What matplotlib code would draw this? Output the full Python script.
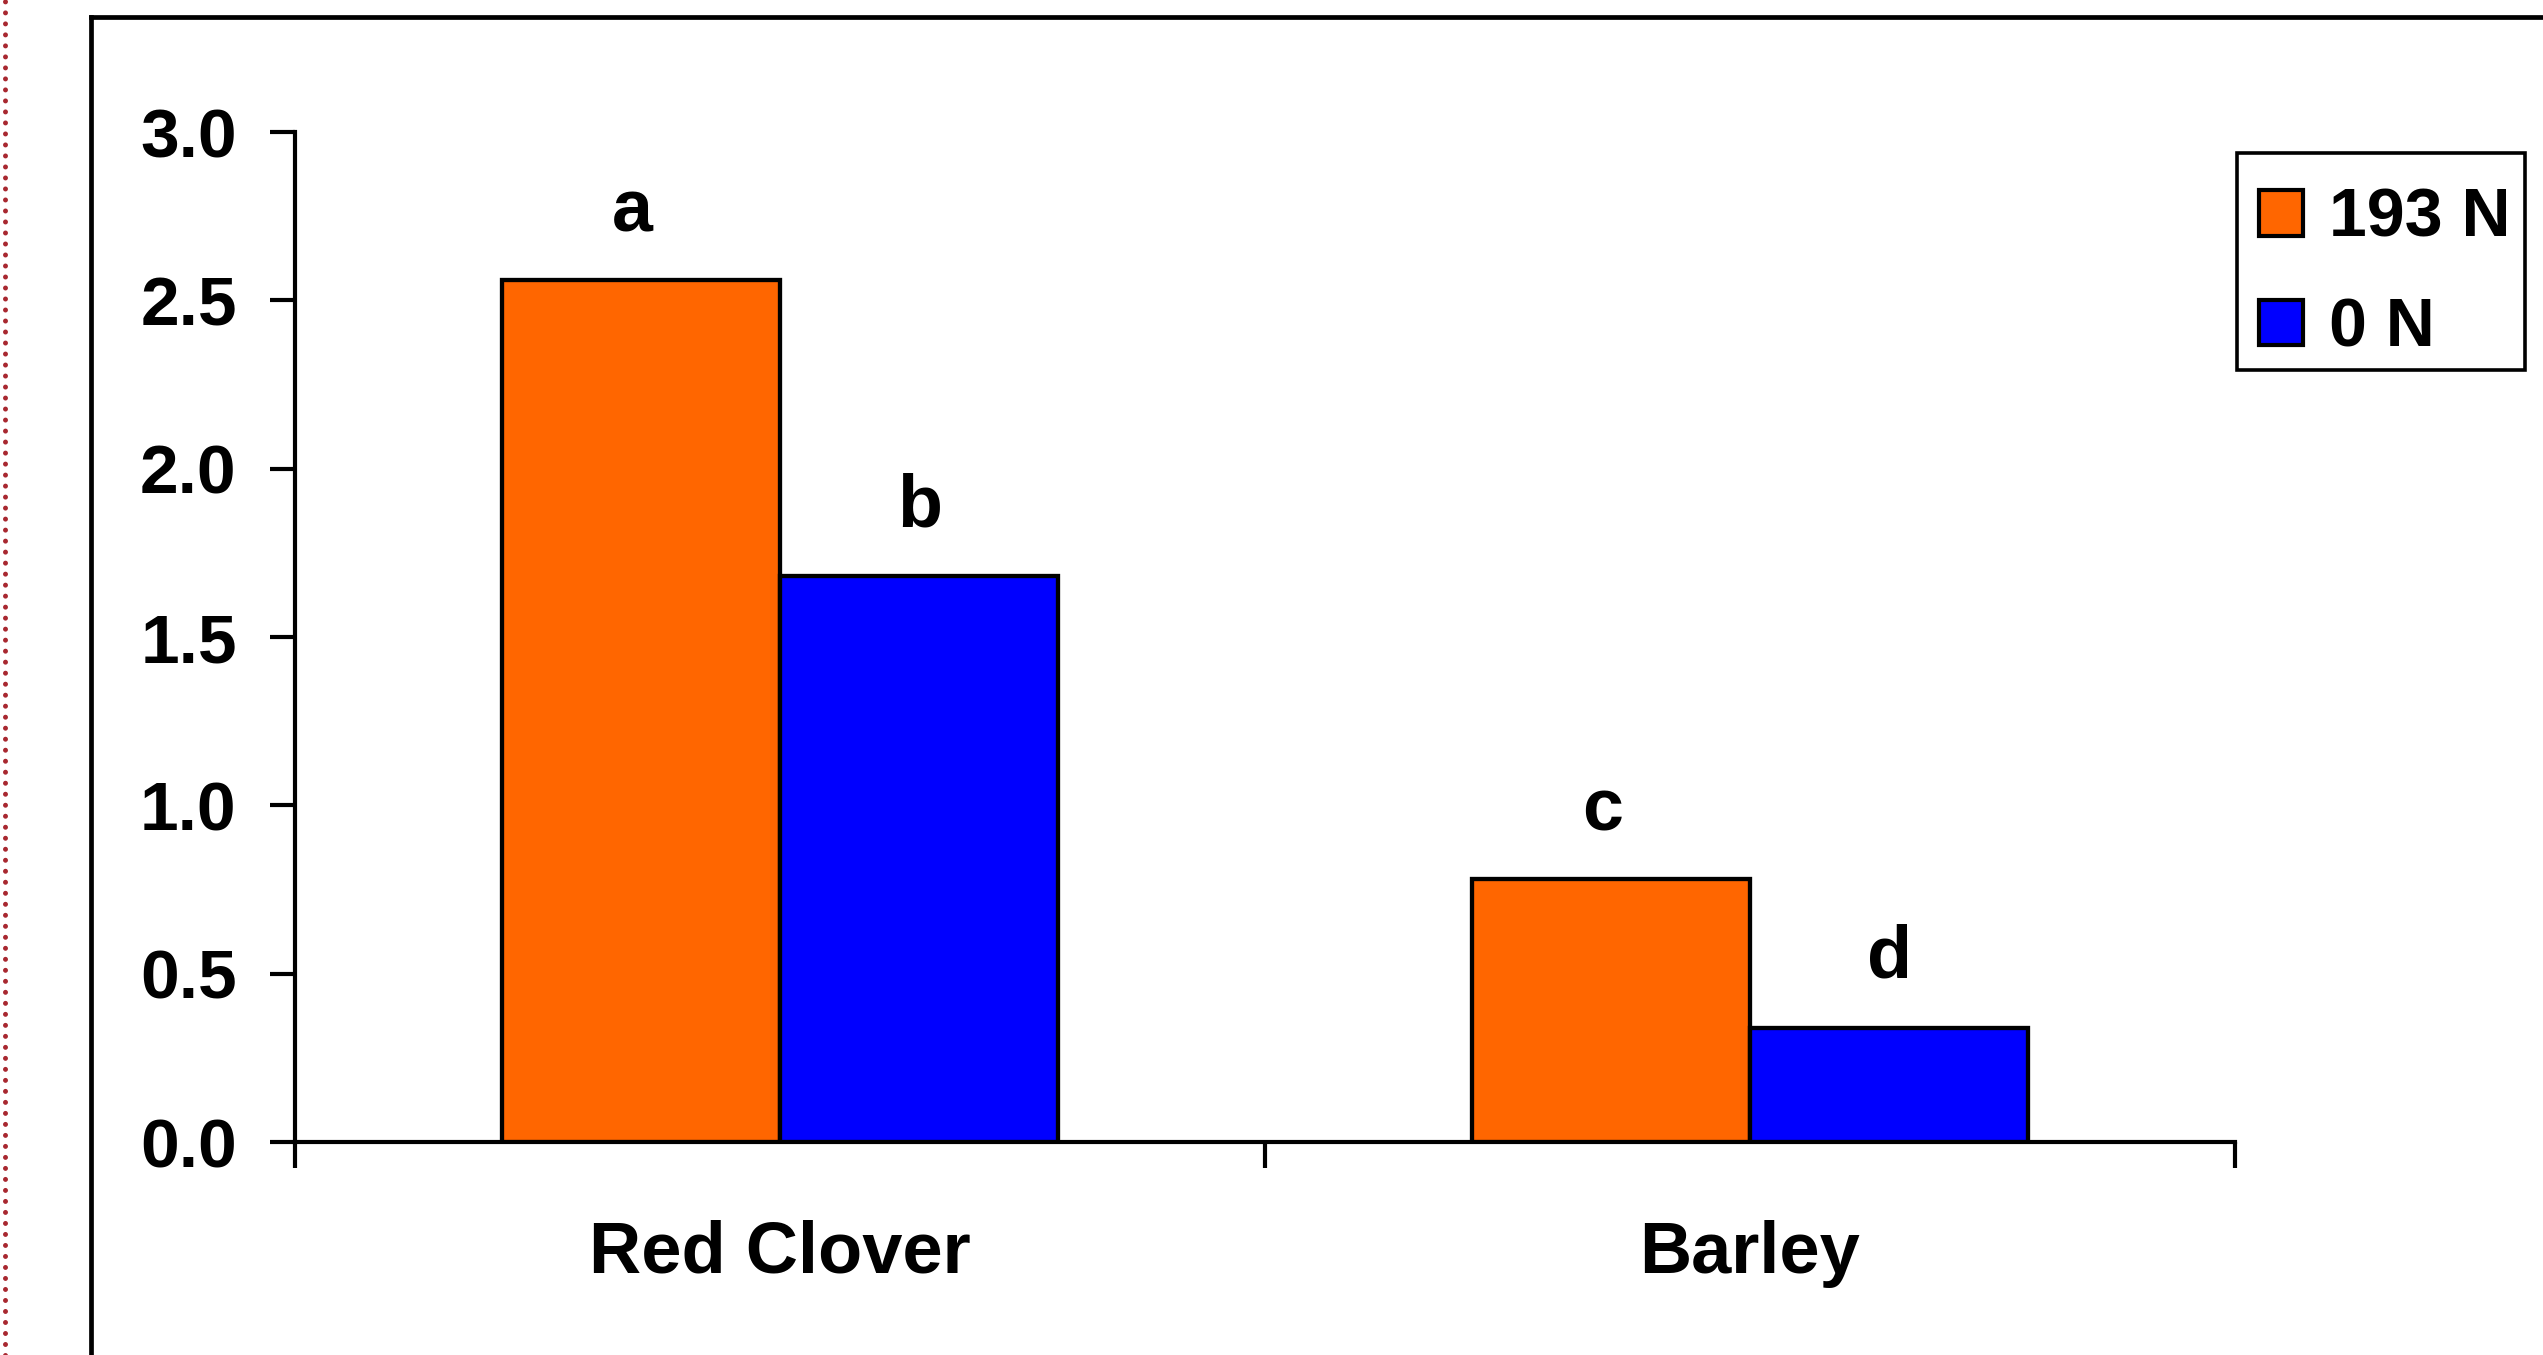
import matplotlib
matplotlib.use("Agg")
import matplotlib.pyplot as plt
from matplotlib.lines import Line2D
from matplotlib.patches import Rectangle
import numpy as np

plt.rcParams['font.family'] = ['Liberation Sans', 'DejaVu Sans']
plt.rcParams['font.weight'] = 'bold'

# Crop biomass-N by treatment
crops = ["Red Clover", "Barley"]
series_names = ["193 N", "0 N"]
n_193 = [2.56, 0.78]
n_0 = [1.68, 0.34]
letters_193 = ["a", "c"]
letters_0 = ["b", "d"]
y_ticks = [0.0, 0.5, 1.0, 1.5, 2.0, 2.5, 3.0]

ORANGE = "#FF6600"
BLUE = "#0000FF"

W, H = 2543, 1355
DPI = 100
fig = plt.figure(figsize=(W / DPI, H / DPI), dpi=DPI)
fig.patch.set_facecolor("white")

# axes placement in pixels
x0, x1 = 295, 2235
y0, y1 = 1142, 132
ax = fig.add_axes([x0 / W, 1 - y0 / H, (x1 - x0) / W, (y0 - y1) / H])

x = np.arange(len(crops))
bw = 0.287
bars1 = ax.bar(x - bw / 2, n_193, bw, color=ORANGE, edgecolor="black",
               linewidth=3.1, label=series_names[0], zorder=3)
bars2 = ax.bar(x + bw / 2, n_0, bw, color=BLUE, edgecolor="black",
               linewidth=3.1, label=series_names[1], zorder=3)

# significance letters above bars
for xi, v, t in zip(x - bw / 2, n_193, letters_193):
    ax.annotate(t, (xi, v), xytext=(-6, 35), textcoords="offset points",
                ha="center", va="baseline", fontsize=53, fontweight="bold")
for xi, v, t in zip(x + bw / 2, n_0, letters_0):
    ax.annotate(t, (xi, v), xytext=(0, 36), textcoords="offset points",
                ha="center", va="baseline", fontsize=53, fontweight="bold")

ax.set_xlim(-0.5, 1.5)
ax.set_ylim(0, 3.0)

for s in ["top", "right"]:
    ax.spines[s].set_visible(False)
for s in ["left", "bottom"]:
    ax.spines[s].set_linewidth(3.0)

ax.set_yticks(y_ticks)
ax.set_yticklabels([f"{t:.1f}" for t in y_ticks])
ax.tick_params(axis="y", direction="out", length=18, width=3.0, pad=24,
               labelsize=50)

ax.set_xticks(x)
ax.set_xticklabels(crops)
ax.tick_params(axis="x", which="major", length=0, pad=56, labelsize=52)
ax.set_xticks([-0.5, 0.5, 1.5], minor=True)
ax.tick_params(axis="x", which="minor", direction="out", length=19, width=3.0)

for lbl in ax.get_xticklabels() + ax.get_yticklabels():
    lbl.set_fontweight("bold")

# legend entries, with the box drawn as its own rectangle
leg = fig.legend(handles=[bars1, bars2], labels=series_names,
                 loc="upper left", bbox_to_anchor=(2237 / W, 1 - 165 / H),
                 borderaxespad=0, frameon=False,
                 handlelength=0.65, handleheight=0.65,
                 handletextpad=0.38, labelspacing=0.67, borderpad=0.32,
                 prop={"weight": "bold", "size": 49})
for p in leg.get_patches():
    p.set_linewidth(3.0)
fig.add_artist(Rectangle((2237 / W, 1 - 370 / H), (2525 - 2237) / W,
                         (370 - 153) / H, transform=fig.transFigure,
                         facecolor="none", edgecolor="black", linewidth=2.6))

# outer chart frame (left and top edges)
fig.add_artist(Line2D([91 / W, 91 / W], [0, 1 - 17 / H], transform=fig.transFigure,
                      color="black", linewidth=3.4, solid_capstyle="projecting"))
fig.add_artist(Line2D([91 / W, 1], [1 - 17 / H, 1 - 17 / H], transform=fig.transFigure,
                      color="black", linewidth=3.4, solid_capstyle="projecting"))

# dotted page margin on the far left
fig.add_artist(Line2D([5 / W, 5 / W], [0, 1], transform=fig.transFigure,
                      color="#A82830", linewidth=3.6,
                      linestyle=(0, (0.001, 2.2)), dash_capstyle="round"))

fig.savefig("out.png", dpi=DPI, facecolor="white")
